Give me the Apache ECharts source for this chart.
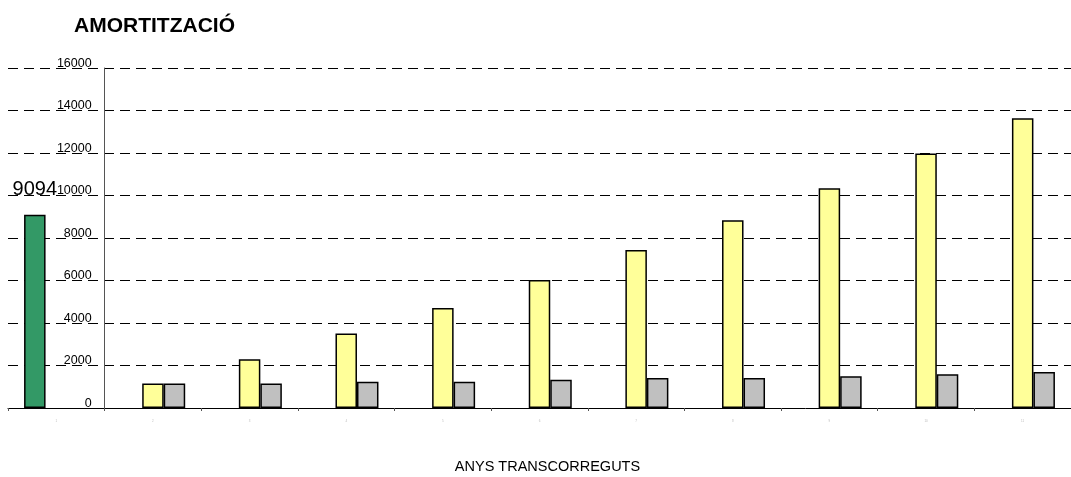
<!DOCTYPE html>
<html>
<head>
<meta charset="utf-8">
<title>AMORTITZACIÓ</title>
<script src="https://cdn.jsdelivr.net/npm/echarts@6/dist/echarts.min.js"></script>
<style>
  html, body { margin: 0; padding: 0; background: #ffffff; }
  #chart { width: 1071px; height: 477px; }
</style>
</head>
<body>
<div id="chart"></div>
<script>
// Year labels along the category axis
const years = ['1', '2', '3', '4', '5', '6', '7', '8', '9', '10', '11'];
// Initial investment (only in the first year)
const inversio = [9094, '-', '-', '-', '-', '-', '-', '-', '-', '-', '-'];
// Accumulated amortization
const acumulada = ['-', 1150, 2290, 3510, 4710, 6020, 7440, 8840, 10340, 11980, 13640];
// Amortization of each year
const anual = ['-', 1150, 1150, 1240, 1230, 1330, 1410, 1410, 1490, 1590, 1690];
// Value axis ticks
const yMin = 0, yMax = 16000, yStep = 2000;

const FONT = '"Liberation Sans", Arial, sans-serif';
const gridLeft = 8, gridRight = 0;
const chartWidth = 1071;
const catWidth = (chartWidth - gridLeft - gridRight) / years.length;

const chart = echarts.init(document.getElementById('chart'), null, { renderer: 'canvas' });

const barBase = {
  type: 'bar',
  barWidth: 21.5,
  barGap: '0%'
};

chart.setOption({
  animation: false,
  backgroundColor: '#ffffff',
  textStyle: { fontFamily: FONT },
  title: {
    text: 'AMORTITZACIÓ',
    left: 69,
    top: 11,
    textStyle: { fontFamily: FONT, fontSize: 21, fontWeight: 'bold', color: '#000000' }
  },
  grid: {
    left: gridLeft, right: gridRight, top: 68, bottom: 69,
    containLabel: false,
    outerBoundsMode: 'none'
  },
  xAxis: {
    type: 'category',
    data: years,
    boundaryGap: true,
    name: 'ANYS TRANSCORREGUTS',
    nameLocation: 'middle',
    nameGap: 51,
    nameTextStyle: { fontFamily: FONT, fontSize: 14.5, color: '#000000', padding: [0, 0, 0, 16] },
    axisLine: { lineStyle: { color: '#000000', width: 1 } },
    axisTick: { show: true, length: 3, lineStyle: { color: '#555555' } },
    axisLabel: { fontSize: 3, color: '#bbbbbb', margin: 12 },
    splitLine: { show: false }
  },
  yAxis: {
    type: 'value',
    min: yMin,
    max: yMax,
    interval: yStep,
    offset: -catWidth,
    axisLine: { show: true, lineStyle: { color: '#555555', width: 1 } },
    axisTick: { show: false },
    axisLabel: {
      fontFamily: FONT,
      fontSize: 12.5,
      lineHeight: 9,
      color: '#000000',
      margin: 13,
      verticalAlign: 'bottom',
      formatter: function (v) { return String(v); }
    },
    splitLine: { show: true, lineStyle: { color: '#000000', width: 1, type: [10, 6] } }
  },
  series: [
    Object.assign({}, barBase, {
      name: 'Inversió',
      data: inversio,
      itemStyle: { color: '#339966', borderColor: '#000000', borderWidth: 1.5 },
      label: {
        show: true,
        position: 'top',
        distance: 15,
        fontFamily: FONT,
        fontSize: 20,
        color: '#000000'
      }
    }),
    Object.assign({}, barBase, {
      name: 'Amortització acumulada',
      data: acumulada,
      itemStyle: { color: '#FFFF99', borderColor: '#000000', borderWidth: 1.5 }
    }),
    Object.assign({}, barBase, {
      name: 'Amortització anual',
      data: anual,
      itemStyle: { color: '#C0C0C0', borderColor: '#000000', borderWidth: 1.5 }
    })
  ]
});
</script>
</body>
</html>
